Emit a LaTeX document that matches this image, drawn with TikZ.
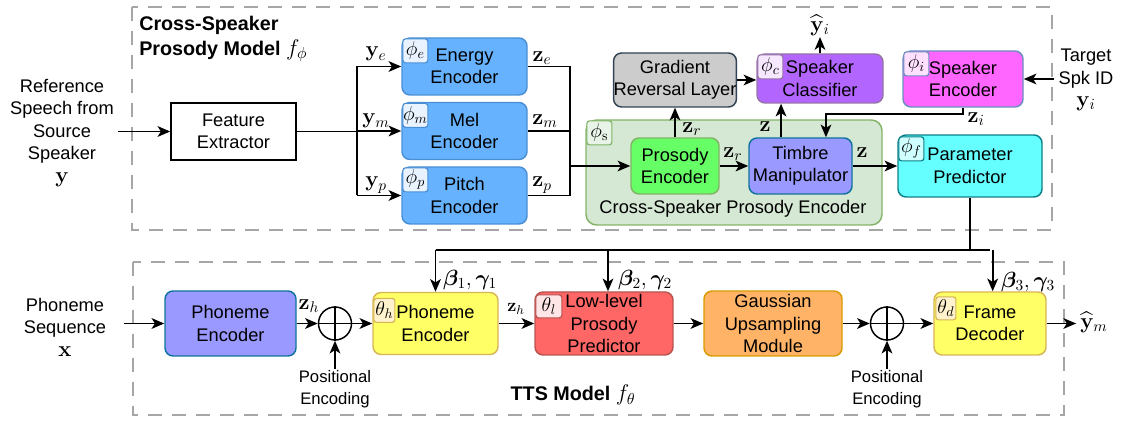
\RequirePackage{fix-cm}
\documentclass[tikz,border=0pt]{standalone}
\usepackage{amsmath,bm}
\usepackage[no-math]{fontspec}
\setmainfont{Liberation Sans}
\usetikzlibrary{arrows.meta,calc}

\definecolor{encblue}{HTML}{66B2FF}
\definecolor{encbluedraw}{HTML}{4A8FD4}
\definecolor{encbluelt}{HTML}{E8F3FF}
\definecolor{grlfill}{HTML}{CCCCCC}
\definecolor{grldraw}{HTML}{314354}
\definecolor{clsfill}{HTML}{B266FF}
\definecolor{clsdraw}{HTML}{9673A6}
\definecolor{clslt}{HTML}{F5E8FF}
\definecolor{spkfill}{HTML}{FF66FF}
\definecolor{spkdraw}{HTML}{6C8EBF}
\definecolor{spklt}{HTML}{FFE0FF}
\definecolor{prosfill}{HTML}{66FF66}
\definecolor{grpdraw}{HTML}{82B366}
\definecolor{grpfill}{HTML}{D5E8D4}
\definecolor{grplt}{HTML}{E9F4E8}
\definecolor{timfill}{HTML}{9999FF}
\definecolor{timdraw}{HTML}{10739E}
\definecolor{parfill}{HTML}{66FFFF}
\definecolor{pardraw}{HTML}{0E8088}
\definecolor{parlt}{HTML}{D0FFFF}
\definecolor{yelfill}{HTML}{FFFF66}
\definecolor{yeldraw}{HTML}{D6B656}
\definecolor{yellt}{HTML}{FFF2CC}
\definecolor{redfill}{HTML}{FF6666}
\definecolor{reddraw}{HTML}{B85450}
\definecolor{redlt}{HTML}{FFE6E6}
\definecolor{orgfill}{HTML}{FFB366}
\definecolor{orgdraw}{HTML}{D79B00}
\definecolor{dashgray}{HTML}{A6A6A6}

\newcommand\mainsz{\fontsize{13.7}{16.9}\selectfont}
\newcommand\smallsz{\fontsize{12.5}{16.5}\selectfont}
\newcommand\titlesz{\fontsize{14.8}{18.75}\selectfont\bfseries}
\newcommand\mathsz{\fontsize{16.5}{18}\selectfont}
\newcommand\badgesz{\fontsize{15}{16}\selectfont}

\begin{document}
\begin{tikzpicture}[x=0.75pt,y=-0.75pt,font=\mainsz,
  arr/.style={-{Stealth[length=9.5pt,width=8pt,inset=2.5pt]},line width=1.4pt},
  wire/.style={line width=1.4pt},
  wh/.style 2 args={minimum width=#1*0.75pt,minimum height=#2*0.75pt},
  blockbox/.style 2 args={draw=#2,fill=#1,line width=1.1pt,rounded corners=6pt,align=center,inner sep=0pt},
  badge/.style 2 args={draw=#2,fill=#1,line width=0.9pt,rounded corners=2pt,inner sep=0pt,font=\badgesz,
    minimum width=18.75pt,minimum height=18pt,anchor=north west},
  frame/.style={draw=dashgray,dash pattern=on 10.5pt off 7.5pt,line width=1.1pt},
  lbl/.style={inner sep=0pt},
  mlbl/.style={inner sep=0pt,font=\mathsz},
  plus/.style={circle,draw,line width=1.1pt,minimum size=24.75pt,inner sep=0pt}]

\useasboundingbox (0,0) rectangle (1121,423);

% ---------- model frames ----------
\draw[frame] (132,7) rectangle (1052,230);
\draw[frame] (133,262) rectangle (1064,415);
\node[lbl,align=left,font=\titlesz,anchor=north west] (title1) at (139,16)
  {Cross-Speaker\\Prosody Model {\fontsize{17}{18}\selectfont$f_\phi$}};
\node[lbl,font=\titlesz] (title2) at (573,395) {TTS Model {\fontsize{17}{18}\selectfont$f_\theta$}};

% ---------- cross-speaker prosody model ----------
\node[align=center,inner sep=3pt] (ref) at (62,133) {Reference\\Speech from\\Source\\Speaker\\{\mathsz$\mathbf{y}$}};
\node[draw,line width=1.1pt,wh={125}{57},align=center,inner sep=0pt] (fe) at (233.5,131.5) {Feature\\Extractor};

\node[blockbox={encblue}{encbluedraw},wh={125}{57}] (ee) at (464.5,66.5) {Energy\\Encoder};
\node[blockbox={encblue}{encbluedraw},wh={125}{57}] (me) at (464.5,131) {Mel\\Encoder};
\node[blockbox={encblue}{encbluedraw},wh={125}{57}] (pe) at (464.5,195.5) {Pitch\\Encoder};
\node[badge={encbluelt}{encbluedraw}] (bE) at ($(ee.north west)+(1,1)$) {$\phi_e$};
\node[badge={encbluelt}{encbluedraw}] (bM) at ($(me.north west)+(1,1)$) {$\phi_m$};
\node[badge={encbluelt}{encbluedraw}] (bP) at ($(pe.north west)+(1,1)$) {$\phi_p$};

\node[draw=grpdraw,fill=grpfill,line width=1.1pt,rounded corners=8pt,wh={296}{105}] (grp) at (734,172.5) {};
\node[badge={grplt}{grpdraw}] (bS) at ($(grp.north west)+(1,1)$) {$\phi_{\mathrm{s}}$};
\node[lbl] (grplbl) at (733,209) {Cross-Speaker Prosody Encoder};

\node[blockbox={prosfill}{grpdraw},wh={88}{56}] (pros) at (675,166) {Prosody\\Encoder};
\node[blockbox={timfill}{timdraw},wh={103}{56}] (tim) at (800.5,166) {Timbre\\Manipulator};
\node[blockbox={grlfill}{grldraw},wh={122}{54}] (grl) at (675,80) {Gradient\\Reversal Layer};
\node[blockbox={clsfill}{clsdraw},wh={126}{49}] (cls) at (820,78.5) {Speaker\\Classifier};
\node[badge={clslt}{clsdraw}] (bC) at ($(cls.north west)+(1,1)$) {$\phi_c$};
\node[blockbox={spkfill}{spkdraw},wh={120}{56}] (spk) at (963,79) {Speaker\\Encoder};
\node[badge={spklt}{spkdraw}] (bI) at ($(spk.north west)+(1,1)$) {$\phi_i$};
\node[blockbox={parfill}{pardraw},wh={144}{62}] (par) at (970,166) {Parameter\\Predictor};
\node[badge={parlt}{pardraw}] (bF) at ($(par.north west)+(1,2)$) {$\phi_f$};

\node[align=center,inner sep=3pt] (tgt) at (1086,80) {Target\\Spk ID\\{\mathsz$\mathbf{y}_i$}};
\node[mlbl,inner sep=1pt] (yhi) at (820,25) {$\widehat{\mathbf{y}}_i$};

% feature split
\coordinate (split) at (357,131.5);
\draw[arr] (fe.west -| ref.east) -- (fe.west);
\draw[wire] (fe.east) -- (split);
\draw[wire] (split |- ee.west) -- (split |- pe.west);
\draw[arr] (split |- ee.west) -- (ee.west);
\draw[arr] (split |- me.west) -- (me.west);
\draw[arr] (split |- pe.west) -- (pe.west);
\node[mlbl] (lye) at (376,54) {$\mathbf{y}_e$};
\node[mlbl] (lym) at (376,121) {$\mathbf{y}_m$};
\node[mlbl] (lyp) at (376,185) {$\mathbf{y}_p$};

% encoder merge
\coordinate (merge) at (570,166);
\draw[wire] (ee.east) -- (ee.east -| merge) -- (pe.east -| merge) -- (pe.east);
\draw[wire] (me.east) -- (me.east -| merge);
\draw[arr] (merge |- pros.west) -- (pros.west);
\node[mlbl] (lze) at (542,58) {$\mathbf{z}_e$};
\node[mlbl] (lzm) at (545,121) {$\mathbf{z}_m$};
\node[mlbl] (lzp) at (542,185) {$\mathbf{z}_p$};

% prosody encoder internals
\draw[arr] (pros.north) -- (grl.south);
\node[mlbl] (lzr1) at (692,129) {$\mathbf{z}_r$};
\draw[arr] (pros.east) -- (tim.west);
\node[mlbl] (lzr2) at (733,154) {$\mathbf{z}_r$};
\draw[arr] (grl.east) -- (grl.east -| cls.west);
\coordinate (tUp) at ([xshift=-14.6pt]tim.north);
\draw[arr] (tUp) -- (tUp |- cls.south);
\node[mlbl] (lz1) at (765,127) {$\mathbf{z}$};
\draw[arr] (spk.south) -- ++(0,6) -| ([xshift=19.1pt]tim.north);
\node[mlbl] (lzi) at (976,119) {$\mathbf{z}_i$};
\draw[arr] (tim.east) -- (tim.east -| par.west);
\node[mlbl] (lz2) at (862,153) {$\mathbf{z}$};
\draw[arr] (cls.north) -- (yhi.south);
\draw[arr] (spk.east -| tgt.west) -- (spk.east);

% ---------- TTS model ----------
\node[align=center,inner xsep=13pt,inner ysep=0pt] (seq) at (65,327) {Phoneme\\Sequence\\{\mathsz$\mathbf{x}$}};
\node[blockbox={timfill}{timdraw},wh={131}{65}] (pe1) at (230.5,323.5) {Phoneme\\Encoder};
\node[plus] (c1) at (335,323.5) {};
\node[blockbox={yelfill}{yeldraw},wh={125}{62}] (pe2) at (435.5,323.5) {Phoneme\\Encoder};
\node[badge={yellt}{yeldraw},wh={21}{24}] (bH) at ($(pe2.north west)+(1,6)$) {$\theta_h$};
\node[blockbox={redfill}{reddraw},wh={138}{63}] (lp) at (604,323.5) {Low-level\\Prosody\\Predictor};
\node[badge={redlt}{reddraw},wh={26}{23}] (bL) at ($(lp.north west)+(1,3)$) {$\theta_l$};
\node[blockbox={orgfill}{orgdraw},wh={138}{65}] (gu) at (773,323.5) {Gaussian\\Upsampling\\Module};
\node[plus] (c2) at (887,323.5) {};
\node[blockbox={yelfill}{yeldraw},wh={112}{63}] (fd) at (990,323.5) {Frame\\Decoder};
\node[badge={yellt}{yeldraw},wh={20}{23}] (bD) at ($(fd.north west)+(2,5)$) {$\theta_d$};
\node[mlbl] (yhm) at (1094,322) {$\widehat{\mathbf{y}}_m$};

\draw[line width=1.1pt] (c1.north) -- (c1.south) (c1.west) -- (c1.east);
\draw[line width=1.1pt] (c2.north) -- (c2.south) (c2.west) -- (c2.east);

\node[font=\smallsz,align=center,inner sep=1pt] (pos1) at (335,389) {Positional\\Encoding};
\node[font=\smallsz,align=center,inner sep=1pt] (pos2) at (887,389) {Positional\\Encoding};

\draw[arr] (pe1.west -| seq.east) -- (pe1.west);
\draw[arr] (pe1.east) -- (c1.west);
\node[mlbl] (lzh1) at (309,306) {$\mathbf{z}_h$};
\draw[arr] (c1.east) -- (pe2.west);
\draw[arr] (pe2.east) -- (lp.west);
\node[mlbl,font=\mainsz] (lzh2) at (516,309) {$\mathbf{z}_h$};
\draw[arr] (lp.east) -- (gu.west);
\draw[arr] (gu.east) -- (c2.west);
\draw[arr] (c2.east) -- (fd.west);
\draw[arr] (fd.east) -- ([xshift=-3pt]fd.east -| yhm.west);
\draw[arr] (pos1.north) -- (c1.south);
\draw[arr] (pos2.north) -- (c2.south);

% conditioning bus from the parameter predictor
\coordinate (busY) at (0,250);
\draw[wire] (par.south) -- (par.south |- busY);
\draw[wire] (pe2.north |- busY) -- (fd.north |- busY);
\draw[arr] (pe2.north |- busY) -- (pe2.north);
\draw[arr] ([xshift=3pt]lp.north |- busY) -- ([xshift=3pt]lp.north);
\draw[arr] ([xshift=2pt]fd.north |- busY) -- ([xshift=2pt]fd.north);
\node[mlbl] (lb1) at (470,280) {$\boldsymbol{\beta}_1,\boldsymbol{\gamma}_1$};
\node[mlbl] (lb2) at (645,280) {$\boldsymbol{\beta}_2,\boldsymbol{\gamma}_2$};
\node[mlbl] (lb3) at (1028,282) {$\boldsymbol{\beta}_3,\boldsymbol{\gamma}_3$};
\end{tikzpicture}
\end{document}
